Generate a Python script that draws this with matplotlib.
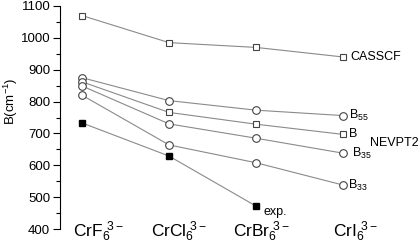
import matplotlib.pyplot as plt

plt.rcParams['font.family'] = ['Liberation Sans', 'DejaVu Sans']
plt.rcParams['mathtext.default'] = 'regular'

complexes = ['CrF$_6^{\\ 3-}$', 'CrCl$_6^{\\ 3-}$', 'CrBr$_6^{\\ 3-}$', 'CrI$_6^{\\ 3-}$']
xpos = [0, 1, 2, 3]
label_pos = [-0.1, 0.79, 1.74, 2.89]

casscf = [1070, 985, 970, 940]
b55 = [875, 803, 773, 756]
b = [862, 766, 729, 697]
b35 = [849, 730, 685, 638]
b33 = [820, 664, 608, 538]
exp_ = [733, 629, 472]

fig = plt.figure(figsize=(4.2, 2.48), dpi=100)
ax = fig.add_axes([60/420, 19/248, 360/420, 223/248])

lc = '#8a8a8a'
mc = '#444444'
ax.plot(xpos, casscf, '-', color=lc, lw=0.8, marker='s', ms=5, mfc='white', mec=mc, mew=0.8)
ax.plot(xpos, b55, '-', color=lc, lw=0.8, marker='o', ms=5.5, mfc='white', mec=mc, mew=0.8)
ax.plot(xpos, b, '-', color=lc, lw=0.8)
ax.plot(xpos[:1], b[:1], 'o', ms=5.5, mfc='white', mec=mc, mew=0.8)
ax.plot(xpos[1:], b[1:], 's', ms=5, mfc='white', mec=mc, mew=0.8)
ax.plot(xpos, b35, '-', color=lc, lw=0.8, marker='o', ms=5.5, mfc='white', mec=mc, mew=0.8)
ax.plot(xpos, b33, '-', color=lc, lw=0.8, marker='o', ms=5.5, mfc='white', mec=mc, mew=0.8)
ax.plot(xpos[:3], exp_, '-', color=lc, lw=0.8, marker='s', ms=5, mfc='black', mec='black')

# series labels
fs = 9
ax.text(3.08, casscf[3], 'CASSCF', fontsize=fs, va='center')
ax.text(3.07, b55[3], 'B$_{55}$', fontsize=fs, va='center')
ax.text(3.07, b[3], 'B', fontsize=fs, va='center')
ax.text(3.31, 670, 'NEVPT2', fontsize=fs, va='center')
ax.text(3.10, b35[3], 'B$_{35}$', fontsize=fs, va='center')
ax.text(3.06, b33[3], 'B$_{33}$', fontsize=fs, va='center')
ax.text(2.09, 453, 'exp.', fontsize=fs, va='center')

# complex names under the points
for lp, name in zip(label_pos, complexes):
    ax.text(lp, -0.036, name, fontsize=12.5, ha='left', va='baseline',
            transform=ax.get_xaxis_transform())

ax.set_xlim(-0.253, 3.885)
ax.set_ylim(400, 1100)
ax.set_yticks(range(400, 1101, 100))
ax.set_yticks(range(450, 1100, 100), minor=True)
ax.tick_params(axis='y', which='major', length=5, width=0.8, labelsize=9.5, pad=2)
ax.tick_params(axis='y', which='minor', length=3, width=0.8)
ax.set_xticks([])
for s in ['top', 'right', 'bottom']:
    ax.spines[s].set_visible(False)
ax.spines['left'].set_linewidth(0.8)
fig.text(11/420, 0.59, 'B(cm$^{-1}$)', fontsize=9.5, rotation=90, ha='center', va='center')

fig.savefig('out.png', dpi=100)
